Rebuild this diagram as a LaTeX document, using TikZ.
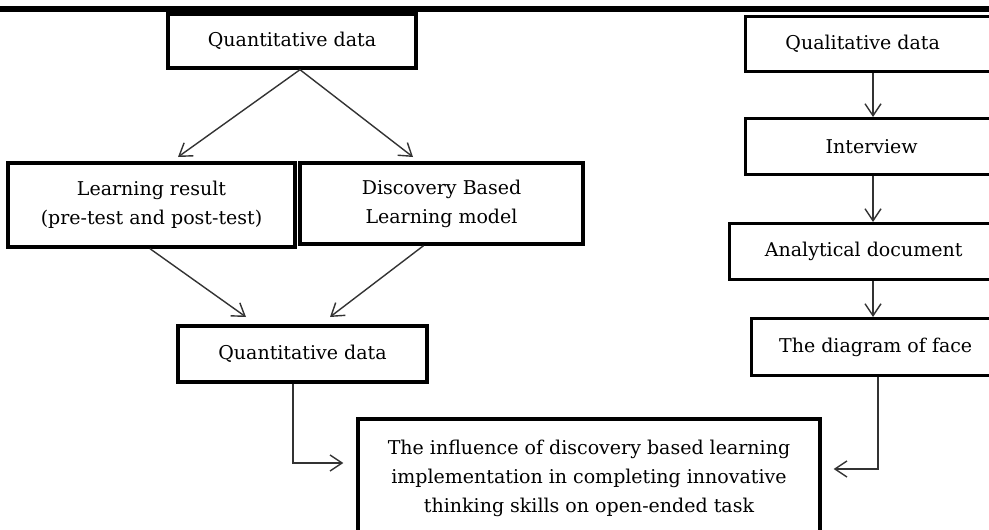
\documentclass[tikz,border=0pt]{standalone}
\usepackage{fontspec}
\setmainfont{DejaVu Serif}
\usetikzlibrary{arrows.meta,calc}
\newcommand\lpart[2]{\makebox[300pt][l]{\makebox[#1]{#2}}}
\begin{document}
\begin{tikzpicture}[x=1pt,y=-1pt,
  box/.style={draw=black, line width=3.4pt, fill=white, inner sep=0pt,
    font=\fontsize{19}{29}\selectfont, align=center},
  rbox/.style={box, anchor=north west, minimum width=300pt},
  arr/.style={draw=black!80, line width=1.4pt,
    -{Straight Barb[length=12pt,width=16pt]}}]
\useasboundingbox (0,0) rectangle (989,530);
\clip (0,0) rectangle (989,530);
\fill[white] (0,0) rectangle (989,530);
\fill[black] (0,6) rectangle (989,12);

% left branch
\node[box, minimum width=248pt, minimum height=54pt] (qt1) at (292,41) {Quantitative data};
\node[box, minimum width=287pt, minimum height=84pt] (lr) at (151.5,205) {Learning result\\(pre-test and post-test)};
\node[box, minimum width=283pt, minimum height=81pt] (db) at (441.5,203.5) {Discovery Based\\Learning model};
\node[box, minimum width=249pt, minimum height=56pt] (qt2) at (302.5,354) {Quantitative data};
\node[box, minimum width=462pt, minimum height=118pt] (inf) at (589,478) {The influence of discovery based learning\\implementation in completing innovative\\thinking skills on open-ended task};

% right branch
\node[rbox, minimum height=55pt] (ql) at (744,15) {\lpart{234pt}{Qualitative data}};
\node[rbox, minimum height=56pt] (int) at (744,117) {\lpart{252pt}{Interview}};
\node[rbox, minimum height=56pt] (ad) at (728,222) {\lpart{268pt}{Analytical document}};
\node[rbox, minimum height=57pt] (face) at (750,317) {\lpart{248pt}{The diagram of face}};

% free ends
\coordinate (t1) at (178,157);
\coordinate (t2) at (413,157);
\coordinate (t3) at (246,317);
\coordinate (t4) at (330,317);
\coordinate (cx) at (873,0);
\coordinate (lx) at (293,463);
\coordinate (rx) at (878,469);

\draw[arr] ($(qt1.south)+(8,0)$) -- (t1);
\draw[arr] ($(qt1.south)+(8,0)$) -- (t2);
\draw[arr] ($(lr.south)+(-1.5,0)$) -- (t3);
\draw[arr] ($(db.south)+(-18,0)$) -- (t4);
\draw[arr] (qt2.south -| lx) |- ($(inf.west |- lx)+(-13,0)$);

\draw[arr] (cx |- ql.south) -- (cx |- int.north);
\draw[arr] (cx |- int.south) -- (cx |- ad.north);
\draw[arr] (cx |- ad.south) -- (cx |- face.north);
\draw[arr] (face.south -| rx) |- ($(inf.east |- rx)+(12,0)$);
\end{tikzpicture}
\end{document}
